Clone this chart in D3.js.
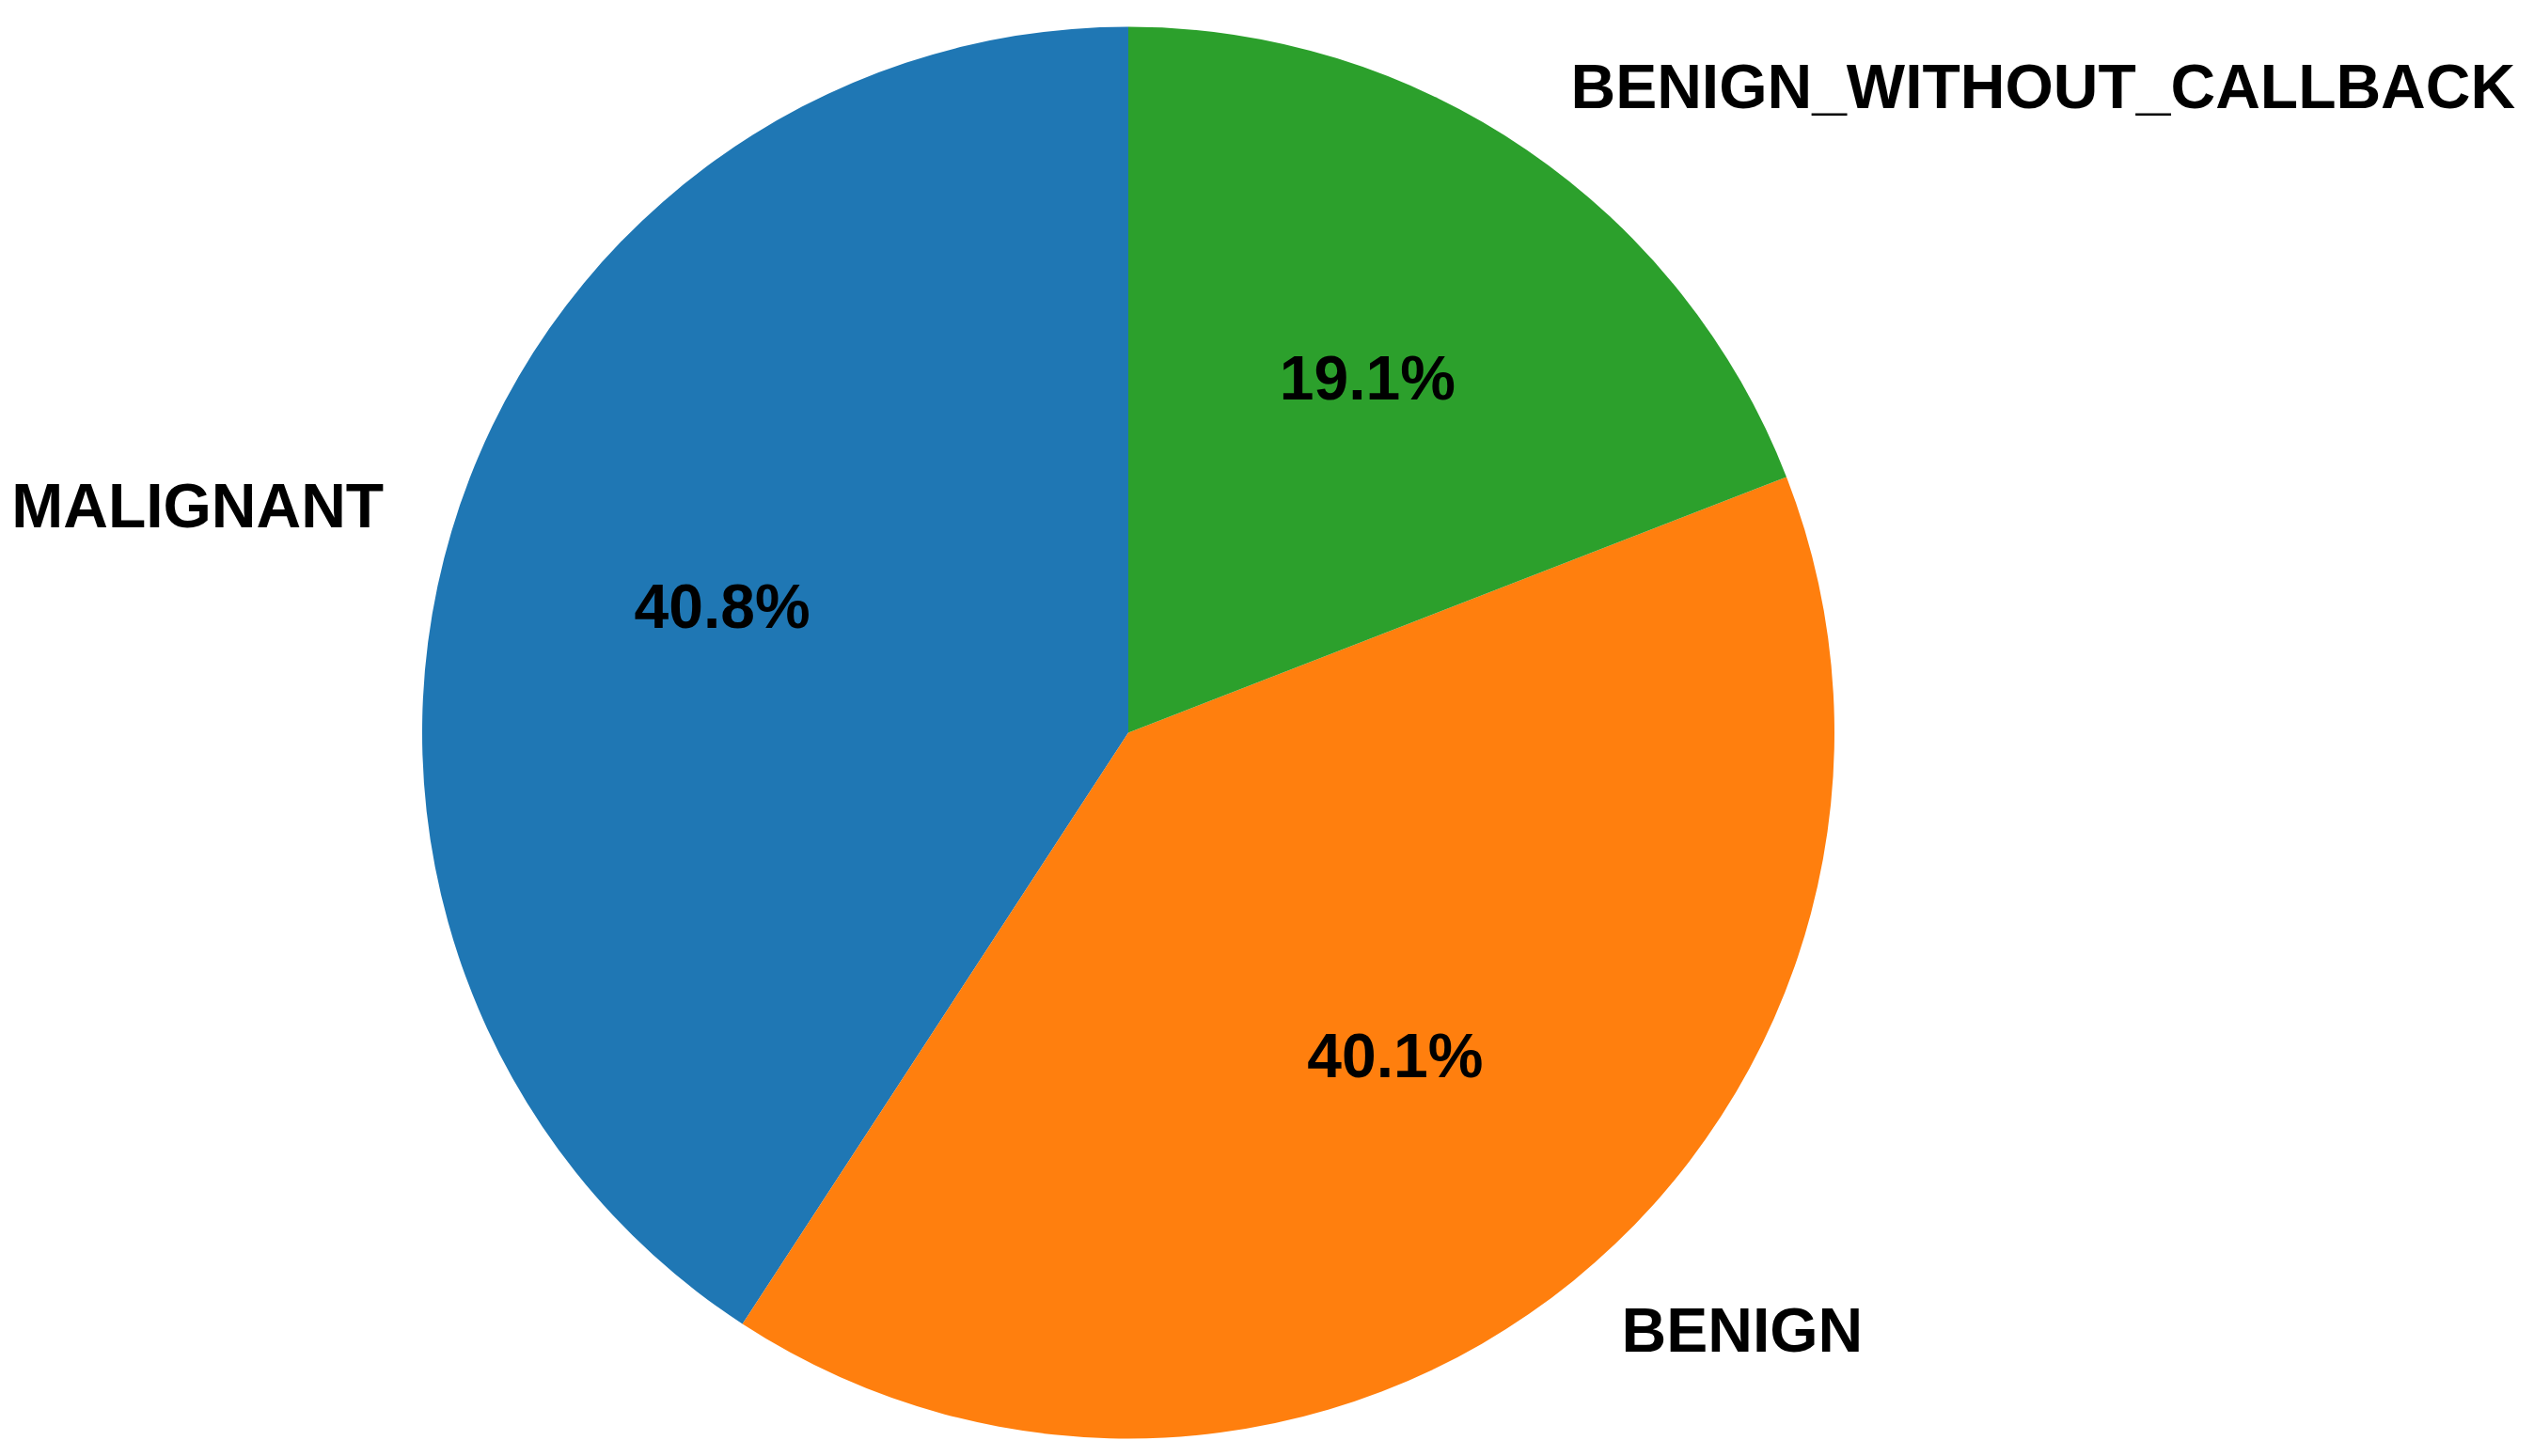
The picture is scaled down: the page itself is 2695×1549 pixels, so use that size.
<!DOCTYPE html>
<html>
<head>
<meta charset="utf-8">
<script src="https://cdn.jsdelivr.net/npm/d3@7"></script>
<style>
  body { margin: 0; background: white; }
  text { font-family: "Liberation Sans", Arial, sans-serif; font-weight: bold; }
</style>
</head>
<body>
<div id="chart"></div>
<script>
// Data
var labels = ['MALIGNANT', 'BENIGN', 'BENIGN_WITHOUT_CALLBACK'];
var shares = [40.8, 40.1, 19.1];
var colors = ['#1f77b4', '#ff7f0e', '#2ca02c'];

var width = 2695;
var height = 1549;
var cx = 1200;
var cy = 779.5;
var radius = 751;

var svg = d3.select('#chart')
  .append('svg')
  .attr('width', width)
  .attr('height', height);

var main = svg.append('g')
  .attr('transform', 'translate(' + cx + ',' + cy + ')');

// counterclockwise from the top, like matplotlib startangle=90
var pie = d3.pie()
  .sort(null)
  .startAngle(0)
  .endAngle(-2 * Math.PI)
  .value(function(d) { return d; });

var arc = d3.arc()
  .innerRadius(0)
  .outerRadius(radius);

var arcs = pie(shares);

main.selectAll('path.slice')
  .data(arcs)
  .enter()
  .append('path')
  .attr('class', 'slice')
  .attr('d', arc)
  .attr('fill', function(d, i) { return colors[i]; });

function mid(d) {
  return (d.startAngle + d.endAngle) / 2;
}

// Percent labels inside
main.selectAll('text.pct')
  .data(arcs)
  .enter()
  .append('text')
  .attr('class', 'pct')
  .attr('x', function(d) { return 0.6 * radius * Math.sin(mid(d)); })
  .attr('y', function(d) { return -0.6 * radius * Math.cos(mid(d)) - 6; })
  .attr('text-anchor', 'middle')
  .attr('dominant-baseline', 'central')
  .attr('font-size', 66)
  .attr('fill', 'black')
  .text(function(d) { return d.data.toFixed(1) + '%'; });

// Category labels outside
main.selectAll('text.lbl')
  .data(arcs)
  .enter()
  .append('text')
  .attr('class', 'lbl')
  .attr('x', function(d) { return 1.1 * radius * Math.sin(mid(d)) + (Math.sin(mid(d)) > 0 ? 4 : 0); })
  .attr('y', function(d) { return -1.1 * radius * Math.cos(mid(d)) - 6; })
  .attr('text-anchor', function(d) { return Math.sin(mid(d)) > 0 ? 'start' : 'end'; })
  .attr('dominant-baseline', 'central')
  .attr('font-size', 66)
  .attr('fill', 'black')
  .text(function(d, i) { return labels[i]; });
</script>
</body>
</html>
